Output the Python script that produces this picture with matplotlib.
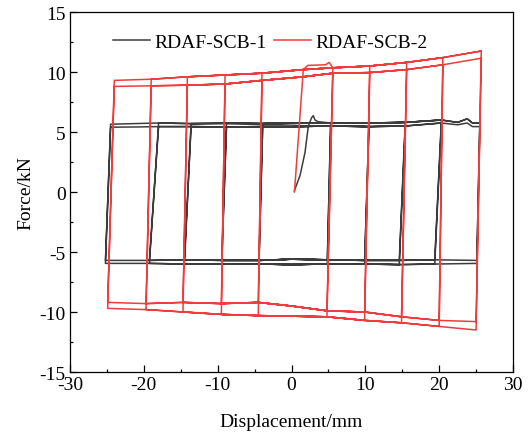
import matplotlib
matplotlib.use("Agg")
import matplotlib.pyplot as plt
from matplotlib.ticker import MultipleLocator

# ---- RDAF-SCB-1 (grey) values ----
s1_init_x = [0.38, 1.15, 1.83, 2.28, 2.73, 2.95, 3.18, 3.6]
s1_init_f = [0.1, 1.36, 3.3, 5.5, 6.2, 6.36, 6.0, 5.86]
s1_left_top = [-3.9, -8.8, -13.6, -18.0, -24.5]
s1_left_bot = [-4.4, -9.45, -14.5, -19.25, -25.2]
s1_right_top = [5.3, 10.5, 15.4, 20.3, 25.5]
s1_right_bot = [4.85, 9.9, 14.6, 19.4, 25.1]
s1_top_x = [-24.5, -21.0, -18.0, -13.6, -8.8, -3.9, 0.0, 5.3, 10.5, 15.4, 20.3, 22.5, 23.8, 24.5, 25.5]
s1_top_hi = [5.65, 5.7, 5.75, 5.7, 5.72, 5.7, 5.72, 5.75, 5.75, 5.8, 6.0, 5.8, 6.1, 5.75, 5.75]
s1_top_lo = [5.4, 5.42, 5.45, 5.45, 5.42, 5.45, 5.45, 5.5, 5.45, 5.5, 5.75, 5.6, 5.75, 5.45, 5.45]
s1_bot_x = [-25.2, -19.25, -14.5, -9.45, -4.4, 0.0, 4.85, 9.9, 14.6, 19.4, 25.1]
s1_bot_hi = [-5.7, -5.7, -5.65, -5.7, -5.7, -5.6, -5.65, -5.7, -5.7, -5.65, -5.7]
s1_bot_lo = [-5.95, -5.95, -6.0, -6.0, -6.0, -6.05, -6.0, -6.0, -6.05, -6.0, -5.95]

# ---- RDAF-SCB-2 (red) ----
s2_init_x = [0.4, 1.6, 2.2, 4.6, 5.1]
s2_init_f = [0.0, 10.2, 10.55, 10.6, 10.8]
s2_left_top = [-4.0, -9.0, -14.1, -19.0, -24.0]
s2_left_bot = [-4.5, -9.5, -14.7, -19.7, -24.9]
s2_right_top = [5.6, 10.6, 15.6, 20.5, 25.7]
s2_right_bot = [4.8, 9.9, 14.9, 20.0, 25.0]
s2_top_x = [-24.0, -19.0, -14.1, -9.0, -4.0, 1.6, 5.6, 10.6, 15.6, 20.5, 25.7]
s2_top_hi = [9.3, 9.4, 9.6, 9.75, 9.9, 10.2, 10.35, 10.5, 10.8, 11.2, 11.75]
s2_top_lo = [8.8, 8.85, 8.9, 9.0, 9.3, 9.6, 9.9, 9.95, 10.2, 10.6, 11.15]
s2_bot_x = [-24.9, -19.7, -14.7, -9.5, -4.5, 0.0, 4.8, 9.9, 14.9, 20.0, 25.0]
s2_bot_hi = [-9.2, -9.3, -9.2, -9.3, -9.2, -9.5, -9.9, -10.0, -10.4, -10.7, -10.8]
s2_bot_lo = [-9.7, -9.8, -10.0, -10.2, -10.3, -10.35, -10.4, -10.7, -10.9, -11.2, -11.5]


def build_path(init_x, init_f, left_top, left_bot, right_top, right_bot,
               top_x, top_hi, top_lo, bot_x, bot_hi, bot_lo):
    xs, fs = list(init_x), list(init_f)

    def take(px, pf, lo, hi, reverse=False):
        pts = [(x, f) for x, f in zip(px, pf) if lo <= x <= hi]
        if reverse:
            pts = pts[::-1]
        for x, f in pts:
            xs.append(x)
            fs.append(f)

    start = init_x[-1] + 1e-6
    for i in range(len(left_top)):
        # first cycle (upper band), then second cycle (lower band)
        take(top_x, top_hi, start, right_top[i])
        take(bot_x, bot_hi, left_bot[i], right_bot[i], reverse=True)
        take(top_x, top_lo, left_top[i], right_top[i])
        take(bot_x, bot_lo, left_bot[i], right_bot[i], reverse=True)
        start = left_top[i]
    take(top_x, top_hi, start, right_top[-1])
    return xs, fs


x1, f1 = build_path(s1_init_x, s1_init_f, s1_left_top, s1_left_bot, s1_right_top,
                    s1_right_bot, s1_top_x, s1_top_hi, s1_top_lo,
                    s1_bot_x, s1_bot_hi, s1_bot_lo)
x2, f2 = build_path(s2_init_x, s2_init_f, s2_left_top, s2_left_bot, s2_right_top,
                    s2_right_bot, s2_top_x, s2_top_hi, s2_top_lo,
                    s2_bot_x, s2_bot_hi, s2_bot_lo)

plt.rcParams["font.family"] = ["Liberation Serif", "DejaVu Serif"]
plt.rcParams["font.size"] = 14
plt.rcParams["axes.unicode_minus"] = False

fig = plt.figure(figsize=(5.28, 4.39), dpi=100)
ax = fig.add_axes([70 / 528, 1 - 373 / 439, 443 / 528, 360 / 439])

ax.plot(x1, f1, color="#3c3c3c", lw=1.1, label="RDAF-SCB-1")
ax.plot(x2, f2, color="#f03c3c", lw=1.1, label="RDAF-SCB-2")

ax.set_xlim(-30, 30)
ax.set_ylim(-15, 15)
ax.xaxis.set_major_locator(MultipleLocator(10))
ax.xaxis.set_minor_locator(MultipleLocator(5))
ax.yaxis.set_major_locator(MultipleLocator(5))
ax.yaxis.set_minor_locator(MultipleLocator(2.5))
ax.tick_params(which="both", direction="in", top=False, right=False, width=0.9)
ax.tick_params(which="major", length=5, labelsize=14, pad=3)
ax.tick_params(which="minor", length=2.5)
for sp in ax.spines.values():
    sp.set_linewidth(0.9)

ax.set_xlabel("Displacement/mm", fontsize=14, labelpad=14)
ax.set_ylabel("Force/kN", fontsize=14, labelpad=4)

ax.legend(loc="center left", bbox_to_anchor=(0.097, 0.917), ncol=2,
          frameon=False, borderpad=0, borderaxespad=0, handlelength=1.9,
          handletextpad=0.25, columnspacing=0.35, fontsize=14)

fig.savefig("out.png", dpi=100)
